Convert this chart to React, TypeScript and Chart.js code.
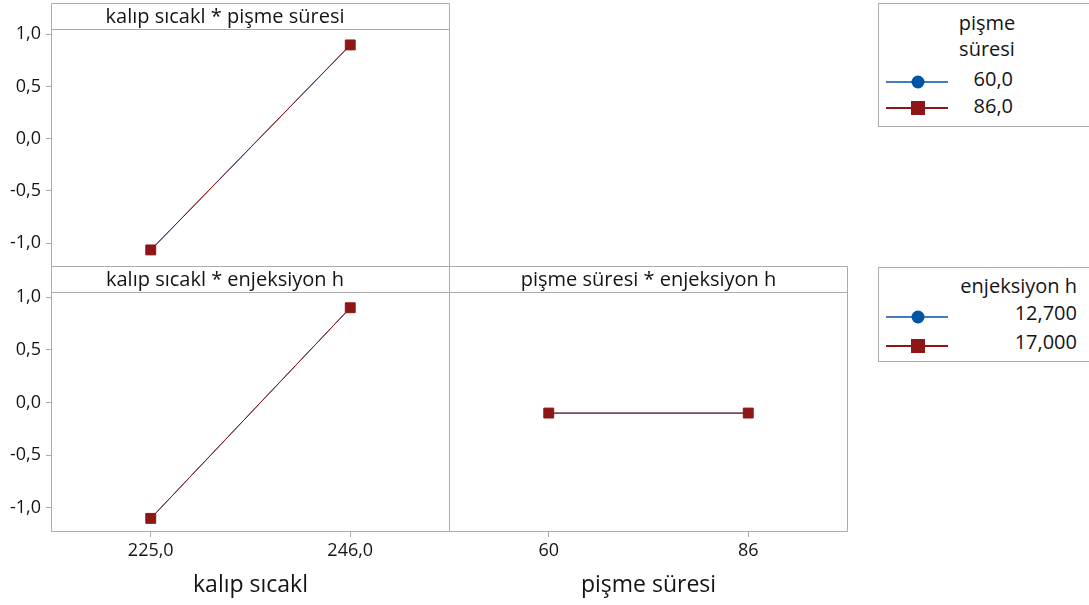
import React, { useEffect, useRef } from "react";
import { Chart, registerables } from "chart.js";
Chart.register(...registerables);

const FONT = "'Open Sans', 'Noto Sans', sans-serif";
const BLUE = "#0054A6";
const RED = "#8E1616";
const FRAME = "#ABABAB";
const TEXT = "#141414";

const yTicks = [-1, -0.5, 0, 0.5, 1];
const yMin = -1.22;
const yMax = 1.04;

const kalipLabels = ["225,0", "246,0"];
const pismeLabels = ["60", "86"];

// kalıp sıcakl * pişme süresi
const p1Pisme60 = [-1.068, 0.895];
const p1Pisme86 = [-1.066, 0.897];
// kalıp sıcakl * enjeksiyon h
const p2Enj127 = [-1.101, 0.899];
const p2Enj170 = [-1.1, 0.9];
// pişme süresi * enjeksiyon h
const p3Enj127 = [-0.101, -0.101];
const p3Enj170 = [-0.1, -0.1];

const pismeLegendTitle = ["pişme", "süresi"];
const pismeLegend = ["60,0", "86,0"];
const enjLegendTitle = "enjeksiyon h";
const enjLegend = ["12,700", "17,000"];

const framePlugin = {
  id: "frame",
  beforeDatasetsDraw(chart: any) {
    const { ctx, chartArea } = chart;
    const l = Math.floor(chartArea.left) + 0.5;
    const r = Math.floor(chartArea.right) - 0.5;
    const t = Math.floor(chartArea.top) - 0.5;
    const b = Math.floor(chartArea.bottom) + 0.5;
    ctx.save();
    ctx.strokeStyle = FRAME;
    ctx.lineWidth = 1;
    ctx.beginPath();
    ctx.moveTo(l, 0.5);
    ctx.lineTo(r, 0.5);
    ctx.lineTo(r, b);
    ctx.lineTo(l, b);
    ctx.closePath();
    ctx.moveTo(l, t);
    ctx.lineTo(r, t);
    ctx.stroke();
    ctx.restore();
  },
};

type PanelProps = {
  left: number;
  top: number;
  width: number;
  height: number;
  title: string;
  labels: string[];
  a: number[];
  b: number[];
  showY: boolean;
  showX: boolean;
  xTitle?: string;
  padLeft: number;
  padRight: number;
  padBottom: number;
};

function Panel(p: PanelProps) {
  const ref = useRef<HTMLCanvasElement | null>(null);
  useEffect(() => {
    if (!ref.current) return;
    const chart = new Chart(ref.current, {
      type: "line",
      data: {
        labels: p.labels,
        datasets: [
          {
            label: "a",
            data: p.a,
            borderColor: BLUE,
            backgroundColor: BLUE,
            borderWidth: 1,
            pointStyle: "circle",
            pointRadius: 4.5,
            pointBorderWidth: 0,
            order: 1,
          },
          {
            label: "b",
            data: p.b,
            borderColor: RED,
            backgroundColor: RED,
            borderWidth: 1,
            pointStyle: "rect",
            pointRadius: 7,
            pointBorderWidth: 1,
            pointBorderColor: RED,
            order: 0,
          },
        ],
      },
      options: {
        responsive: false,
        animation: false,
        layout: {
          autoPadding: false,
          padding: { left: p.padLeft, right: p.padRight, top: 0, bottom: p.padBottom },
        },
        plugins: {
          legend: { display: false },
          tooltip: { enabled: false },
          title: {
            display: true,
            text: p.title,
            color: TEXT,
            font: { family: FONT, size: 20, weight: "normal", lineHeight: "21px" } as any,
            padding: { top: 4, bottom: 2 },
          },
        },
        scales: {
          x: {
            type: "category",
            offset: true,
            display: p.showX,
            afterFit: (s: any) => {
              if (p.showX) s.height = 74;
              s.paddingLeft = 0;
              s.paddingRight = 0;
            },
            border: { display: false },
            grid: { drawOnChartArea: false, tickLength: 6, color: FRAME, offset: false },
            ticks: { padding: 3, color: TEXT, font: { family: FONT, size: 18 } },
            title: {
              display: !!p.xTitle,
              text: p.xTitle || "",
              color: TEXT,
              font: { family: FONT, size: 23, lineHeight: "27px" } as any,
              padding: { top: 0, bottom: 6 },
            },
          },
          y: {
            type: "linear",
            min: yMin,
            max: yMax,
            display: p.showY,
            afterBuildTicks: (s: any) => {
              s.ticks = yTicks.map((v) => ({ value: v }));
            },
            afterFit: (s: any) => {
              if (p.showY) s.width = 51;
              s.paddingTop = 0;
              s.paddingBottom = 0;
            },
            border: { display: false },
            grid: { drawOnChartArea: false, tickLength: 5, color: FRAME },
            ticks: {
              padding: 5,
              color: TEXT,
              font: { family: FONT, size: 18 },
              callback: (v: any) => Number(v).toFixed(1).replace(".", ","),
            },
          },
        },
      },
      plugins: [framePlugin],
    });
    return () => chart.destroy();
  }, []);
  return (
    <canvas
      ref={ref}
      width={p.width}
      height={p.height}
      style={{ position: "absolute", left: p.left, top: p.top, width: p.width, height: p.height }}
    />
  );
}

function Marker({ left, top, kind }: { left: number; top: number; kind: "circle" | "rect" }) {
  const color = kind === "circle" ? BLUE : RED;
  return (
    <svg width={62} height={16} style={{ position: "absolute", left, top: top - 8 }}>
      <line x1={0} y1={8} x2={62} y2={8} stroke={color} strokeWidth={kind === "circle" ? 1.3 : 2} />
      {kind === "circle" ? (
        <circle cx={32} cy={8} r={6.5} fill={color} />
      ) : (
        <rect x={25} y={1} width={14} height={14} fill={color} />
      )}
    </svg>
  );
}

const textStyle: React.CSSProperties = {
  position: "absolute",
  fontFamily: FONT,
  fontSize: 20,
  lineHeight: "24px",
  color: TEXT,
  whiteSpace: "nowrap",
};

export default function App() {
  return (
    <div
      style={{
        position: "absolute",
        left: 0,
        top: 0,
        width: 1089,
        height: 605,
        overflow: "hidden",
        background: "#ffffff",
      }}
    >
      <Panel
        left={0}
        top={3}
        width={452}
        height={264}
        title="kalıp sıcakl * pişme süresi"
        labels={kalipLabels}
        a={p1Pisme60}
        b={p1Pisme86}
        showY={true}
        showX={false}
        padLeft={0}
        padRight={2}
        padBottom={1}
      />
      <Panel
        left={0}
        top={266}
        width={452}
        height={339}
        title="kalıp sıcakl * enjeksiyon h"
        labels={kalipLabels}
        a={p2Enj127}
        b={p2Enj170}
        showY={true}
        showX={true}
        xTitle="kalıp sıcakl"
        padLeft={0}
        padRight={2}
        padBottom={0}
      />
      <Panel
        left={448}
        top={266}
        width={401}
        height={339}
        title="pişme süresi * enjeksiyon h"
        labels={pismeLabels}
        a={p3Enj127}
        b={p3Enj170}
        showY={false}
        showX={true}
        xTitle="pişme süresi"
        padLeft={1}
        padRight={1}
        padBottom={0}
      />

      {/* legend: pişme süresi */}
      <div
        style={{
          position: "absolute",
          left: 878,
          top: 3,
          width: 240,
          height: 122,
          border: `1px solid ${FRAME}`,
          boxSizing: "content-box",
        }}
      />
      <div style={{ ...textStyle, left: 917, top: 11, width: 140, textAlign: "center" }}>{pismeLegendTitle[0]}</div>
      <div style={{ ...textStyle, left: 917, top: 37, width: 140, textAlign: "center" }}>{pismeLegendTitle[1]}</div>
      <Marker left={886} top={82} kind="circle" />
      <Marker left={886} top={108} kind="rect" />
      <div style={{ ...textStyle, left: 913, top: 67, width: 100, textAlign: "right" }}>{pismeLegend[0]}</div>
      <div style={{ ...textStyle, left: 913, top: 94, width: 100, textAlign: "right" }}>{pismeLegend[1]}</div>

      {/* legend: enjeksiyon h */}
      <div
        style={{
          position: "absolute",
          left: 878,
          top: 267,
          width: 240,
          height: 93,
          border: `1px solid ${FRAME}`,
          boxSizing: "content-box",
        }}
      />
      <div style={{ ...textStyle, left: 937, top: 274, width: 140, textAlign: "right" }}>{enjLegendTitle}</div>
      <Marker left={886} top={317} kind="circle" />
      <Marker left={886} top={346} kind="rect" />
      <div style={{ ...textStyle, left: 957, top: 301, width: 120, textAlign: "right" }}>{enjLegend[0]}</div>
      <div style={{ ...textStyle, left: 957, top: 330, width: 120, textAlign: "right" }}>{enjLegend[1]}</div>
    </div>
  );
}
